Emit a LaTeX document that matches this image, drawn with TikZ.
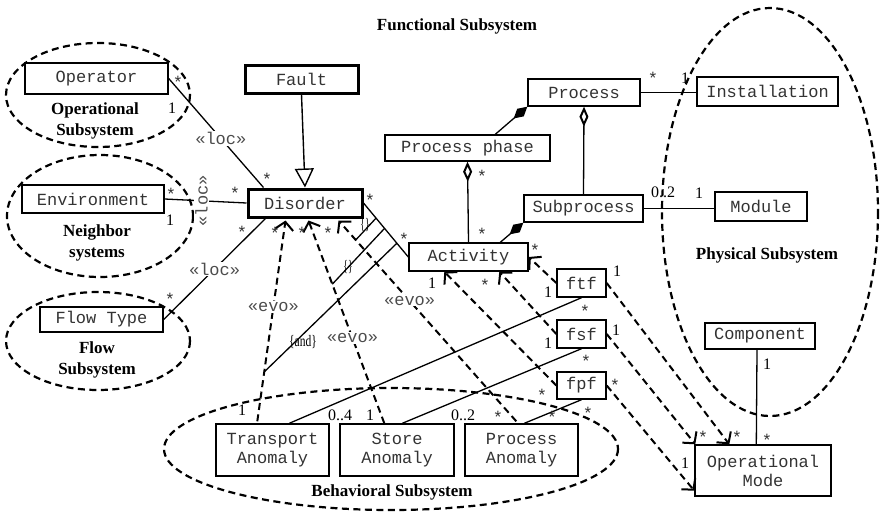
\documentclass[tikz,border=0pt]{standalone}
\usepackage{fontspec}
\setmainfont{Liberation Serif}
\setmonofont{Liberation Mono}
\usetikzlibrary{arrows.meta,calc}
\newcommand\mlab[3]{\node[mul] (#1) at (#2) {#3};}
\newcommand\slab[2]{\node[astk] (#1) at (#2) {*};}
\tikzset{
  cls/.style={draw, fill=white, line width=1.4pt, inner sep=0pt, align=center,
    text=black!80, font=\ttfamily\fontsize{17}{19}\selectfont},
  thickcls/.style={cls, line width=3pt},
  subsys/.style={line width=2.2pt, dash pattern=on 7pt off 4.5pt},
  sublabel/.style={inner sep=0pt, align=center, font=\bfseries\fontsize{17}{21}\selectfont},
  stereo/.style={fill=white, inner sep=1pt, text=black!70, font=\ttfamily\fontsize{17}{19}\selectfont},
  mul/.style={inner sep=0pt, font=\fontsize{16}{16}\selectfont},
  astk/.style={inner sep=0pt, yshift=-3pt, text=black!80, font=\ttfamily\fontsize{17}{17}\selectfont},
  assoc/.style={line width=1.3pt},
  cstr/.style={line width=1.3pt},
  cstrlab/.style={inner sep=0pt, font=\fontsize{16}{16}\selectfont},
  dep/.style={line width=2pt, dash pattern=on 7pt off 4.5pt,
    -{Straight Barb[length=8pt,width=18pt,line width=2pt]}},
  gen/.style={line width=1.4pt, -{Triangle[open,length=19pt,width=19pt,line width=1.4pt]}},
  aggr/.style={line width=1.3pt, {Diamond[open,length=20pt,width=9pt,line width=2pt]}-},
  comp/.style={line width=1.3pt, {Diamond[length=18pt,width=10pt]}-}
}
\begin{document}
\begin{tikzpicture}[x=1pt,y=-1pt]
\path[use as bounding box, fill=white] (0,0) rectangle (882,511);

% subsystem ellipses
\draw[subsys] (98,95) ellipse [x radius=92, y radius=52];
\draw[subsys] (100,216) ellipse [x radius=93, y radius=61];
\draw[subsys] (98,341) ellipse [x radius=92, y radius=49];
\draw[subsys] (391,449) ellipse [x radius=227, y radius=61];
\draw[subsys] (770,212) ellipse [x radius=108, y radius=204];

% subsystem labels
\node[sublabel] (lfunc) at (457,26) {Functional Subsystem};
\node[sublabel] (lop) at (95,121) {Operational\\Subsystem};
\node[sublabel] (lnb) at (97,243) {Neighbor\\systems};
\node[sublabel] (lflow) at (97,360) {Flow\\Subsystem};
\node[sublabel] (lbeh) at (392,492) {Behavioral Subsystem};
\node[sublabel] (lphys) at (767,255) {Physical Subsystem};

% classes
\node[cls, minimum width=143pt, minimum height=31pt] (Operator) at (96.5,78.5) {Operator};
\node[thickcls, minimum width=113pt, minimum height=28pt] (Fault) at (301.5,79) {Fault};
\node[thickcls, minimum width=114pt, minimum height=28pt] (Disorder) at (305,203) {Disorder};
\node[cls, minimum width=142pt, minimum height=28pt] (Environment) at (93,199) {Environment};
\node[cls, minimum width=123pt, minimum height=25pt] (FlowType) at (101.5,319.5) {Flow Type};
\node[cls, minimum width=112pt, minimum height=27pt] (Process) at (584,92.5) {Process};
\node[cls, minimum width=141pt, minimum height=29pt] (Installation) at (767.5,91.5) {Installation};
\node[cls, minimum width=165pt, minimum height=26pt] (Pphase) at (467.5,148) {Process phase};
\node[cls, minimum width=119pt, minimum height=27pt] (Subprocess) at (583.5,208.5) {Subprocess};
\node[cls, minimum width=92pt, minimum height=29pt] (Module) at (761,206.5) {Module};
\node[cls, minimum width=119pt, minimum height=28pt] (Activity) at (468.5,257) {Activity};
\node[cls, minimum width=49pt, minimum height=28pt] (ftf) at (581.5,283) {ftf};
\node[cls, minimum width=49pt, minimum height=28pt] (fsf) at (581.5,334) {fsf};
\node[cls, minimum width=49pt, minimum height=27pt] (fpf) at (581.5,385.5) {fpf};
\node[cls, minimum width=110pt, minimum height=26pt] (Component) at (760,336) {Component};
\node[cls, minimum width=136pt, minimum height=51pt] (OpMode) at (763,470.5) {Operational\\Mode};
\node[cls, minimum width=113pt, minimum height=52pt] (TA) at (272.5,450) {Transport\\Anomaly};
\node[cls, minimum width=114pt, minimum height=52pt] (SA) at (397,450) {Store\\Anomaly};
\node[cls, minimum width=113pt, minimum height=52pt] (PA) at (521.5,450) {Process\\Anomaly};

% location associations
\draw[assoc] (Operator.east) -- ($(Disorder.north west)+(17,0)$)
  node[stereo, pos=0.55] (loc1) {«loc»};
\draw[assoc] (Environment.east) -- (Disorder.west)
  node[stereo, pos=0.45, rotate=90] (loc2) {«loc»};
\draw[assoc] (FlowType.east) -- ($(Disorder.south west)+(19,0)$)
  node[stereo, pos=0.5] (loc3) {«loc»};

% generalization
\draw[gen] (Fault.south) -- (Disorder.north);

% disorder - activity association
\coordinate (A0) at (Disorder.east);
\coordinate (A1) at (Activity.west);
\draw[assoc] (A0) -- (A1);

% evo dependencies
\coordinate (T0) at ($(TA.north west)+(42,-2)$);
\coordinate (T1) at ($(Disorder.south west)+(39,2)$);
\coordinate (S0) at ($(SA.north west)+(45,0)$);
\coordinate (S1) at ($(Disorder.south west)+(62,2)$);
\coordinate (P0) at ($(PA.north west)+(52,-2)$);
\coordinate (P1) at ($(Disorder.south west)+(92,2)$);
\draw[dep] (T0) -- (T1) node[stereo, pos=0.57] (evo1) {«evo»};
\draw[dep] (S0) -- (S1) node[stereo, pos=0.42] (evo2) {«evo»};
\draw[dep] (P0) -- (P1) node[stereo, pos=0.6] (evo3) {«evo»};

% constraint lines
\draw[cstr] ($(A0)!0.745!(A1)$) -- ($(T0)!0.246!(T1)$);
\draw[cstr] ($(A0)!0.47!(A1)$) -- ($(S0)!0.686!(S1)$);
\draw[cstr] ($(A0)!0.28!(A1)$) -- ($(P0)!0.903!(P1)$);
\node[cstrlab, xscale=0.72] (cand) at (303,342) {\{and\}};
\node[cstrlab, xscale=0.6] (c1) at (348,267) {\{\}};
\node[cstrlab, xscale=0.6] (c2) at (365,225) {\{\}};

% process structure
\draw[assoc] (Process.east) -- (Installation.west |- Process.east);
\draw[assoc] (Subprocess.east) -- (Module.west |- Subprocess.east);
\draw[aggr] (Process.south) -- (Subprocess.north);
\draw[aggr] (Pphase.south) -- (Activity.north);
\draw[comp] (Process.south west) -- ($(Pphase.north west)+(111,0)$);
\draw[comp] (Subprocess.south west) -- ($(Activity.north west)+(92,0)$);

% functions to activity
\draw[dep] (ftf.west) -- (Activity.east);
\draw[dep] (fsf.west) -- ($(Activity.south west)+(91,0)$);
\draw[dep] (fpf.west) -- ($(Activity.south west)+(36,0)$);

% functions to anomalies
\draw[assoc] (ftf.south) -- ($(TA.north west)+(74,0)$);
\draw[assoc] (fsf.south) -- ($(SA.north west)+(63,0)$);
\draw[assoc] (fpf.south) -- ($(PA.north west)+(60,0)$);

% functions to operational mode
\draw[dep] (ftf.east) -- ($(OpMode.north west)+(35,0)$);
\draw[dep] (fsf.east) -- ($(OpMode.north west)+(1,0)$);
\draw[dep] (fpf.east) -- ($(OpMode.south west)+(0,-6)$);
\draw[assoc] ($(Component.south)+(-3,0)$) -- ($(OpMode.north west)+(62,0)$);

% multiplicities
\slab{s1}{178,79}
\slab{s2}{267,176}
\slab{s3}{171,191}
\slab{s4}{235,190}
\slab{s5}{170,296}
\slab{s6}{242,229}
\slab{s7}{275,230}
\slab{s8}{302,230}
\slab{s9}{328,230}
\slab{s10}{370,197}
\slab{s11}{404,236}
\slab{s12}{482,231}
\slab{s13}{482,173}
\slab{s14}{535,247}
\slab{s15}{485,282}
\slab{s16}{585,308}
\slab{s17}{586,358}
\slab{s18}{542,392}
\slab{s19}{615,382}
\slab{s20}{588,410}
\slab{s21}{653,75}
\slab{s22}{767,437}
\slab{s23}{703,434}
\slab{s24}{737,434}
\slab{s25}{498,414}
\slab{s26}{552,414}
\mlab{n1}{172,108}{1}
\mlab{n2}{170,220}{1}
\mlab{n3}{432,283}{1}
\mlab{n4}{548,292}{1}
\mlab{n5}{617,271}{1}
\mlab{n6}{548,343}{1}
\mlab{n7}{616,330}{1}
\mlab{n8}{685,78}{1}
\mlab{n9}{663,192}{0..2}
\mlab{n10}{699,193}{1}
\mlab{n11}{767,364}{1}
\mlab{n12}{685,463}{1}
\mlab{n13}{242,410}{1}
\mlab{n14}{340,415}{0..4}
\mlab{n15}{370,415}{1}
\mlab{n16}{463,415}{0..2}
\end{tikzpicture}
\end{document}
